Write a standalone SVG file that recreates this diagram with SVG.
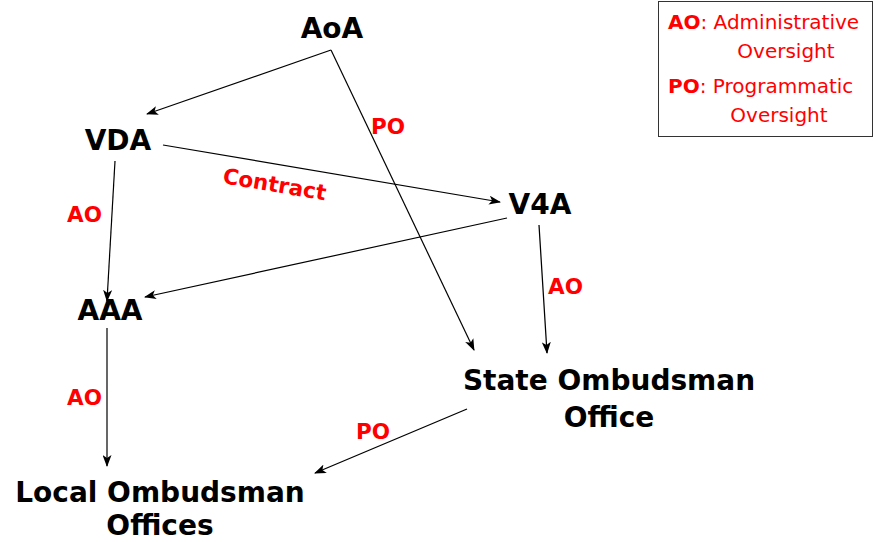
<svg xmlns="http://www.w3.org/2000/svg" width="875" height="542" viewBox="0 0 875 542">
<style>
.node{font-family:"DejaVu Sans",Verdana,sans-serif;font-weight:bold;font-size:28px;fill:#000;text-anchor:middle}
.lbl{font-family:"DejaVu Sans",Verdana,sans-serif;font-weight:bold;font-size:21.5px;fill:#ff0000}
.leg{font-family:"DejaVu Sans",Verdana,sans-serif;font-size:20px;fill:#ff0000}
.b{font-weight:bold}
.edge{stroke:#000;stroke-width:1.2;fill:none;marker-end:url(#ah)}
</style>
<defs>
<marker id="ah" markerUnits="userSpaceOnUse" markerWidth="12" markerHeight="9" refX="11" refY="4.5" orient="auto">
<path d="M0,0 L12,4.5 L0,9 L3,4.5 z" fill="#000"/>
</marker>
</defs>
<rect x="0" y="0" width="875" height="542" fill="#fff"/>
<g id="connectors">
<line class="edge" x1="331" y1="50" x2="147" y2="114"/>
<path class="edge" d="M331,50 L474,350"/>
<line class="edge" x1="163" y1="145" x2="500" y2="202"/>
<line class="edge" x1="507" y1="218" x2="145" y2="297"/>
<line class="edge" x1="539" y1="225" x2="547" y2="353"/>
<line class="edge" x1="115" y1="161" x2="107" y2="301"/>
<line class="edge" x1="107" y1="328" x2="107" y2="466"/>
<line class="edge" x1="467" y1="409" x2="315" y2="473"/>
<text class="lbl" x="371" y="134">PO</text>
<text class="lbl" x="222" y="183" font-size="17" transform="rotate(9.6 222 183)">Contract</text>
<text class="lbl" x="67" y="222">AO</text>
<text class="lbl" x="548" y="294">AO</text>
<text class="lbl" x="67" y="405">AO</text>
<text class="lbl" x="356" y="439">PO</text>
</g>
<g id="AoA"><text class="node" x="332" y="38">AoA</text></g>
<g id="VDA"><text class="node" x="118" y="150">VDA</text></g>
<g id="V4A"><text class="node" x="540" y="214">V4A</text></g>
<g id="AAA"><text class="node" x="110" y="320">AAA</text></g>
<g id="StateOmbudsman"><text class="node" x="609" y="390">State Ombudsman</text><text class="node" x="609" y="427">Office</text></g>
<g id="LocalOmbudsman"><text class="node" x="160" y="502">Local Ombudsman</text><text class="node" x="160" y="535">Offices</text></g>
<g id="legend">
<rect x="658.5" y="1.5" width="214" height="135" fill="none" stroke="#333" stroke-width="1"/>
<text class="leg" x="668" y="29"><tspan class="b">AO</tspan>: Administrative</text>
<text class="leg" x="786" y="58" text-anchor="middle">Oversight</text>
<text class="leg" x="668" y="93"><tspan class="b">PO</tspan>: Programmatic</text>
<text class="leg" x="779" y="122" text-anchor="middle">Oversight</text>
</g>
</svg>
